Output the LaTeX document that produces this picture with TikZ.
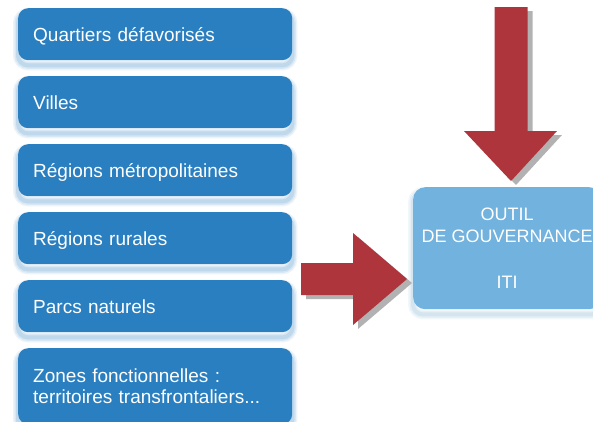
\documentclass[tikz,border=0pt]{standalone}
\usepackage{fontspec}
\setmainfont{Liberation Sans}
\definecolor{boxblue}{HTML}{2A7FC0}
\definecolor{itiblue}{HTML}{71B2DE}
\definecolor{arrowred}{HTML}{AD353B}
\definecolor{arrowshade}{HTML}{B2B2B2}
\pgfdeclarelayer{background}
\pgfsetlayers{background,main}

% soft glow falling below a rounded box
\newcommand\boxglow[2]{%
  \begin{pgfonlayer}{background}
    \foreach \w/\o in {10/0.09,7/0.11,4/0.14}{
      \draw[#2, line width=\w pt, opacity=\o, rounded corners=10pt]
        ([yshift=-5pt]#1.north west) rectangle ([yshift=-5pt]#1.south east);
    }
  \end{pgfonlayer}}

\tikzset{
  zone/.style={fill=boxblue, rounded corners=10pt, anchor=north west,
    text=white, font=\fontsize{19}{21}\selectfont, align=left,
    text width=244pt, inner xsep=15pt, inner ysep=0pt,
    minimum height=52pt, text height=13.7pt, text depth=0pt},
  itibox/.style={fill=itiblue, rounded corners=12pt, anchor=north west,
    text=white, font=\fontsize{18}{22}\selectfont, align=center,
    minimum width=188pt, minimum height=122pt, inner sep=0pt},
  bigarrow/.style={fill=arrowred},
  arrowshadow/.style={fill=arrowshade}
}

\begin{document}
\begin{tikzpicture}[x=1pt,y=-1pt]
  \useasboundingbox (0,0) rectangle (593,421);
  \clip (0,0) rectangle (593,421);

  % territories
  \node[zone] (q1) at (18,8)   {Quartiers défavorisés};
  \node[zone] (q2) at (18,76)  {Villes};
  \node[zone] (q3) at (18,144) {Régions métropolitaines};
  \node[zone] (q4) at (18,212) {Régions rurales};
  \node[zone] (q5) at (18,280) {Parcs naturels};
  \node[zone, minimum height=76pt, text depth=21pt] (q6) at (18,348)
    {Zones fonctionnelles :\\territoires transfrontaliers...};
  \foreach \n in {q1,q2,q3,q4,q5,q6}{\boxglow{\n}{boxblue}}

  % governance tool
  \node[itibox] (iti) at (413,187) {OUTIL\\DE GOUVERNANCE\\[24pt]ITI};
  \boxglow{iti}{itiblue!80!gray}

  % arrow from above
  \coordinate (top) at (511,7);
  \begin{scope}[shift={(top)}]
    \fill[arrowshadow, shift={(5,4)}]
      (-16.5,0) -- (16.5,0) -- (16.5,124) -- (46,124) -- (0,174)
      -- (-47,124) -- (-16.5,124) -- cycle;
    \fill[bigarrow]
      (-16.5,0) -- (16.5,0) -- (16.5,124) -- (46,124) -- (0,174)
      -- (-47,124) -- (-16.5,124) -- cycle;
  \end{scope}

  % arrow from the territories
  \coordinate (left) at (301,279);
  \begin{scope}[shift={(left)}]
    \fill[arrowshadow, shift={(5,4)}]
      (0,-16) -- (52,-16) -- (52,-46) -- (106,0) -- (52,46)
      -- (52,16) -- (0,16) -- cycle;
    \fill[bigarrow]
      (0,-16) -- (52,-16) -- (52,-46) -- (106,0) -- (52,46)
      -- (52,16) -- (0,16) -- cycle;
  \end{scope}
\end{tikzpicture}
\end{document}
